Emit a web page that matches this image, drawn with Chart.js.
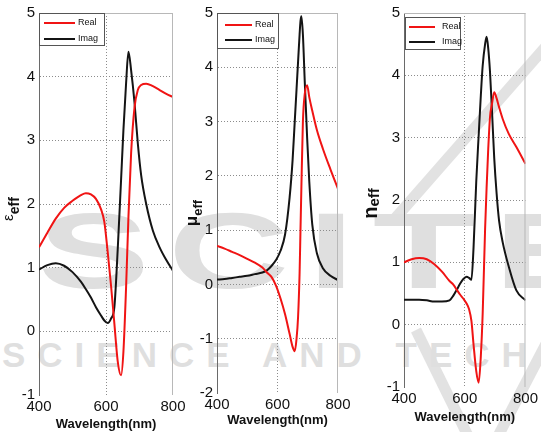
<!DOCTYPE html>
<html>
<head>
<meta charset="utf-8">
<script src="https://cdn.jsdelivr.net/npm/chart.js@4.4.0/dist/chart.umd.min.js"></script>
<style>
  html, body { margin: 0; padding: 0; background: #fff; }
  #wrap { position: relative; width: 541px; height: 432px; overflow: hidden; }
  #wrap canvas, #wrap svg { position: absolute; left: 0; top: 0; }
  .wm { position: absolute; font-family: "Liberation Sans", Arial, sans-serif; font-weight: bold; color: #dfdfdf; white-space: nowrap; line-height: 1; }
</style>
</head>
<body>
<div id="wrap">
  <svg width="541" height="432">
    <line x1="392" y1="222" x2="548" y2="44" stroke="#e2e2e2" stroke-width="11"/>
    <line x1="416" y1="330" x2="470" y2="440" stroke="#e2e2e2" stroke-width="11"/>
    <line x1="548" y1="340" x2="496" y2="440" stroke="#e2e2e2" stroke-width="11"/>
  </svg>
  <div class="wm" style="left:38px; top:197px; font-size:108px; letter-spacing:12px; transform:scaleX(1.55); transform-origin:left top;">SCITE</div>
  <div class="wm" style="left:2px; top:337px; font-size:35px; letter-spacing:12px;">SCIENCE AND TECHNOLOGY</div>
  <canvas id="epsChart" width="541" height="432"></canvas>
  <canvas id="muChart" width="541" height="432"></canvas>
  <canvas id="nChart" width="541" height="432"></canvas>
</div>

<script>
// series + axis data
const seriesNames = ["Real", "Imag"];
const seriesColors = ["#f01414", "#141414"];
const xTicks = [400, 600, 800];
const epsTicks = [-1, 0, 1, 2, 3, 4, 5];
const muTicks = [-2, -1, 0, 1, 2, 3, 4, 5];
const nTicks = [-1, 0, 1, 2, 3, 4, 5];

const epsWl = [400, 425, 450, 475, 500, 525, 540, 555, 570, 585, 595, 605, 615, 625, 635, 645, 652, 660, 667, 675, 685, 695, 705, 720, 740, 760, 780, 800];
const epsReal = [1.32, 1.55, 1.77, 1.94, 2.05, 2.14, 2.17, 2.15, 2.08, 1.92, 1.72, 1.25, 0.72, 0.12, -0.47, -0.69, -0.32, 0.70, 1.80, 2.80, 3.51, 3.79, 3.87, 3.89, 3.85, 3.79, 3.73, 3.68];
const epsImag = [0.97, 1.04, 1.07, 1.03, 0.93, 0.78, 0.66, 0.53, 0.38, 0.25, 0.17, 0.13, 0.20, 0.38, 1.29, 2.38, 3.16, 3.90, 4.39, 4.10, 3.60, 2.95, 2.45, 2.00, 1.58, 1.32, 1.12, 0.95];

const muWl = [400, 425, 450, 475, 500, 525, 550, 565, 580, 595, 610, 625, 640, 650, 657, 663, 668, 673, 676, 679, 684, 690, 698, 705, 715, 730, 750, 775, 800];
const muReal = [0.71, 0.66, 0.60, 0.54, 0.47, 0.40, 0.31, 0.22, 0.14, -0.02, -0.26, -0.55, -0.91, -1.15, -1.23, -1.00, -0.60, 0.20, 1.00, 1.80, 3.00, 3.50, 3.67, 3.45, 3.20, 2.85, 2.50, 2.12, 1.76];
const muImag = [0.09, 0.10, 0.12, 0.14, 0.16, 0.19, 0.22, 0.26, 0.34, 0.45, 0.62, 0.92, 1.60, 2.30, 3.00, 3.60, 4.10, 4.60, 4.85, 4.94, 4.60, 3.75, 2.70, 1.90, 1.10, 0.58, 0.30, 0.16, 0.08];

const nWl = [400, 425, 450, 475, 500, 525, 550, 563, 575, 585, 595, 606, 614, 622, 629, 638, 646, 653, 659, 667, 672, 677, 683, 690, 697, 705, 713, 725, 745, 770, 800];
const nReal = [1.00, 1.05, 1.07, 1.05, 0.97, 0.85, 0.70, 0.64, 0.55, 0.48, 0.42, 0.34, 0.25, 0.06, -0.32, -0.75, -0.93, -0.50, 0.17, 1.53, 2.20, 2.78, 3.32, 3.55, 3.73, 3.63, 3.49, 3.30, 3.06, 2.85, 2.58];
const nImag = [0.40, 0.40, 0.40, 0.39, 0.37, 0.37, 0.39, 0.47, 0.57, 0.66, 0.73, 0.77, 0.75, 0.72, 1.24, 2.31, 3.05, 3.68, 4.15, 4.50, 4.62, 4.45, 4.07, 3.40, 2.68, 2.10, 1.67, 1.32, 0.93, 0.55, 0.39];

const FONT = "'Liberation Sans', Arial, sans-serif";
const W = 541, H = 432;

// box edges, legend and the rotated y title with its "eff" subscript
const panelDecor = {
  id: "panelDecor",
  afterDraw(chart, args, o) {
    const { ctx, chartArea: a } = chart;
    ctx.save();
    ctx.strokeStyle = "#b8b8b8";
    ctx.lineWidth = 1;
    ctx.beginPath();
    ctx.moveTo(a.left, a.top + 0.5);
    ctx.lineTo(a.right, a.top + 0.5);
    ctx.moveTo(a.right - 0.5, a.top);
    ctx.lineTo(a.right - 0.5, a.bottom);
    ctx.stroke();

    const lg = o.legend;
    ctx.fillStyle = "#fff";
    ctx.fillRect(lg.x, lg.y, lg.w, lg.h);
    ctx.strokeStyle = "#555";
    ctx.strokeRect(lg.x + 0.5, lg.y + 0.5, lg.w, lg.h);
    ctx.font = "9px " + FONT;
    ctx.textBaseline = "middle";
    chart.data.datasets.forEach((ds, i) => {
      const y = lg.y + lg.rows[i];
      ctx.strokeStyle = ds.borderColor;
      ctx.lineWidth = 2;
      ctx.beginPath();
      ctx.moveTo(lg.x + lg.line[0], y);
      ctx.lineTo(lg.x + lg.line[1], y);
      ctx.stroke();
      ctx.fillStyle = "#111";
      ctx.fillText(ds.label, lg.x + lg.text, y);
    });

    const t = o.title;
    const mainFont = t.mainFont + " " + FONT;
    const subFont = "bold " + t.subSize + "px " + FONT;
    ctx.font = mainFont;
    const w1 = ctx.measureText(t.main).width;
    ctx.font = subFont;
    const w2 = ctx.measureText(t.sub).width;
    ctx.translate(t.x, (a.top + a.bottom) / 2 + t.dy);
    ctx.rotate(-Math.PI / 2);
    ctx.fillStyle = "#111";
    ctx.textBaseline = "alphabetic";
    ctx.textAlign = "left";
    const x0 = -(w1 + w2) / 2;
    ctx.font = mainFont;
    ctx.fillText(t.main, x0, 0);
    ctx.font = subFont;
    ctx.fillText(t.sub, x0 + w1, t.drop);
    ctx.restore();
  }
};

function buildPanel(id, wl, real, imag, yTicks, box, decor) {
  const toPts = (ys) => wl.map((x, i) => ({ x: x, y: ys[i] }));
  const line = (k, ys) => ({
    label: seriesNames[k],
    data: toPts(ys),
    borderColor: seriesColors[k],
    borderWidth: 2,
    pointRadius: 0,
    fill: false,
    cubicInterpolationMode: "monotone"
  });
  const yMin = yTicks[0], yMax = yTicks[yTicks.length - 1];

  return new Chart(document.getElementById(id), {
    type: "line",
    data: { datasets: [line(0, real), line(1, imag)] },
    options: {
      responsive: false,
      animation: false,
      events: [],
      layout: { padding: { left: box.left - 30, right: W - box.right, top: box.top, bottom: 0 } },
      scales: {
        x: {
          type: "linear",
          min: 400,
          max: 800,
          afterBuildTicks: (s) => { s.ticks = xTicks.map((v) => ({ value: v })); },
          afterFit: (s) => { s.height = H - box.bottom; },
          grid: {
            drawTicks: false,
            color: (c) => (c.tick && (c.tick.value === 400 || c.tick.value === 800)) ? "rgba(0,0,0,0)" : "#8c8c8c"
          },
          border: { display: false, dash: [1, 2] },
          ticks: { padding: 3, color: "#111", font: { family: FONT, size: 15 } },
          title: {
            display: true,
            text: "Wavelength(nm)",
            color: "#111",
            font: { family: FONT, size: 13, weight: "bold" },
            padding: { top: 0, bottom: box.titlePad }
          }
        },
        y: {
          min: yMin,
          max: yMax,
          afterBuildTicks: (s) => { s.ticks = yTicks.map((v) => ({ value: v })); },
          afterFit: (s) => { s.width = 30; },
          grid: {
            drawTicks: false,
            color: (c) => (c.tick && (c.tick.value === yMin || c.tick.value === yMax)) ? "rgba(0,0,0,0)" : "#8c8c8c"
          },
          border: { display: true, color: "#6a6a6a", width: 1, dash: [1, 2] },
          ticks: { padding: 4, color: "#111", font: { family: FONT, size: 15 } }
        }
      },
      plugins: {
        legend: { display: false },
        tooltip: { enabled: false },
        panelDecor: decor
      }
    },
    plugins: [panelDecor]
  });
}

buildPanel("epsChart", epsWl, epsReal, epsImag, epsTicks,
  { left: 39, right: 173, top: 13, bottom: 395, titlePad: 0 },
  {
    legend: { x: 39, y: 13, w: 65, h: 32, rows: [10, 26], line: [5, 36], text: 39 },
    title: { main: "\u03b5", sub: "eff", mainFont: "15px", subSize: 14, x: 12.5, drop: 6, dy: 5 }
  });

buildPanel("muChart", muWl, muReal, muImag, muTicks,
  { left: 217, right: 338, top: 13, bottom: 393, titlePad: 4 },
  {
    legend: { x: 217, y: 13, w: 61, h: 35, rows: [12, 27], line: [8, 35], text: 38 },
    title: { main: "\u03bc", sub: "eff", mainFont: "bold 17px", subSize: 13, x: 197, drop: 4.5, dy: 10 }
  });

buildPanel("nChart", nWl, nReal, nImag, nTicks,
  { left: 404, right: 529, top: 13, bottom: 387, titlePad: 7 },
  {
    legend: { x: 405, y: 17, w: 55, h: 32, rows: [10, 25], line: [4, 30], text: 37 },
    title: { main: "n", sub: "eff", mainFont: "bold 20px", subSize: 15, x: 376.5, drop: 2.5, dy: 3.5 }
  });
</script>
</body>
</html>
